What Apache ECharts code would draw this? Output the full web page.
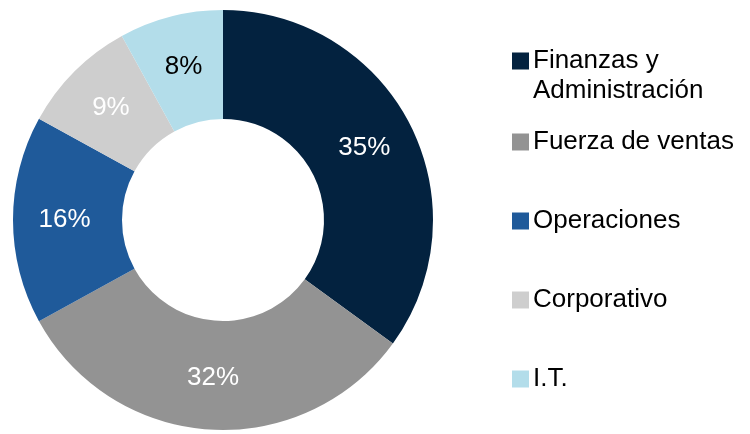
<!DOCTYPE html>
<html>
<head>
<meta charset="utf-8">
<script src="https://cdn.jsdelivr.net/npm/echarts@6/dist/echarts.min.js"></script>
<style>
  html, body { margin: 0; padding: 0; background: #fff; }
  #chart { width: 750px; height: 434px; }
</style>
</head>
<body>
<div id="chart"></div>
<script>
// datos del gráfico
var areas = ['Finanzas y Administración', 'Fuerza de ventas', 'Operaciones', 'Corporativo', 'I.T.'];
var valores = [35, 32, 16, 9, 8];
var colores = ['#03223F', '#939393', '#1F5A9A', '#CECECE', '#B3DDEA'];
var coloresEtiqueta = ['#fff', '#fff', '#fff', '#fff', '#000'];

var chart = echarts.init(document.getElementById('chart'));

var fuente = 'Liberation Sans, Arial, sans-serif';

var datos = areas.map(function (nombre, i) {
  return {
    name: nombre,
    value: valores[i],
    itemStyle: { color: colores[i] },
    label: { color: coloresEtiqueta[i] }
  };
});

var option = {
  animation: false,
  legend: [
    {
      // primer elemento, texto en dos líneas con el cuadro alineado a la primera
      data: [areas[0]],
      orient: 'vertical',
      left: 512,
      top: 46,
      padding: 0,
      itemWidth: 17,
      itemHeight: 47,
      icon: 'path://M0,0h17v17h-17z M0,46.99h0.01v0.01h-0.01z',
      selectedMode: false,
      formatter: function () { return 'Finanzas y\nAdministración'; },
      textStyle: { fontFamily: fuente, fontSize: 26, lineHeight: 30, color: '#000', padding: [0, 0, 0, -1] }
    },
    {
      data: areas.slice(1),
      orient: 'vertical',
      left: 512,
      top: 127,
      padding: 0,
      itemWidth: 17,
      itemHeight: 17,
      itemGap: 49,
      icon: 'rect',
      selectedMode: false,
      textStyle: { fontFamily: fuente, fontSize: 26, lineHeight: 30, color: '#000', padding: [0, 0, 0, -1] }
    }
  ],
  series: [{
    type: 'pie',
    center: [223, 220],
    radius: [101, 210],
    startAngle: 90,
    clockwise: true,
    label: {
      show: true,
      position: 'inside',
      formatter: '{c}%',
      fontFamily: fuente,
      fontSize: 26
    },
    labelLine: { show: false },
    emphasis: { scale: false },
    data: datos
  }]
};

chart.setOption(option);
</script>
</body>
</html>
